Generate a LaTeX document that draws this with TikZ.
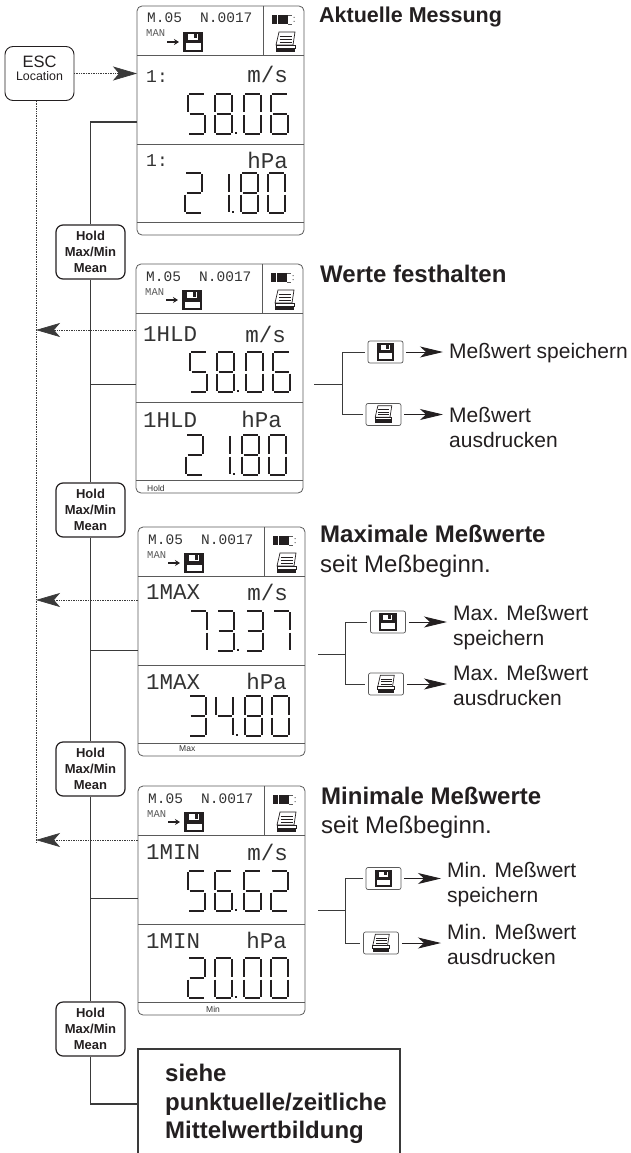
\documentclass[tikz,border=0pt]{standalone}
\usepackage{fontspec}
\setmainfont{Liberation Sans}
\newfontfamily\lcdfont{Liberation Mono}
\usepackage{tikz}
\usetikzlibrary{arrows.meta,calc}
\definecolor{textSchwarz}{HTML}{231F20}
\definecolor{lcdGrau}{HTML}{333333}
\definecolor{rahmenGrau}{HTML}{5A5A5A}
\definecolor{busGrau}{HTML}{3A3A3A}

\tikzset{
  panelbox/.style={draw=rahmenGrau, line width=0.8pt, rounded corners=5pt,
    anchor=north west, inner sep=0pt, outer sep=0pt,
    minimum width=167pt, minimum height=229pt},
  panellinie/.style={draw=rahmenGrau, line width=0.8pt},
  lcdtext/.style={text=lcdGrau, inner sep=0pt, anchor=base west},
  lcdseg/.style={draw=textSchwarz, line width=1.5pt},
  lcdquer/.style={line width=2.4pt},
  sega/.style=lcdquer, segd/.style=lcdquer, segg/.style=lcdquer,
  segb/.style={}, segc/.style={}, sege/.style={}, segf/.style={},
  lcdwert/.style={text opacity=0, inner sep=0pt, anchor=north west,
    font=\lcdfont\fontsize{28}{30}\selectfont},
  klein/.style={font=\lcdfont\fontsize{14.5}{16}\selectfont},
  mittel/.style={font=\lcdfont\fontsize{22.5}{24}\selectfont},
  einheit/.style={lcdtext, anchor=base east, font=\lcdfont\fontsize{22.5}{24}\selectfont},
  fuss/.style={text=lcdGrau, inner sep=0pt, anchor=base west,
    font=\fontsize{8.5}{10}\selectfont},
  holdbox/.style={draw=textSchwarz, line width=1.2pt, rounded corners=7pt,
    minimum width=69pt, minimum height=54pt, inner sep=0pt, align=center,
    text=textSchwarz, font=\fontsize{13}{16}\selectfont\bfseries},
  escbox/.style={draw=textSchwarz, line width=0.9pt, rounded corners=8pt,
    minimum width=69pt, minimum height=54pt, inner sep=0pt},
  esctext/.style={text=textSchwarz, inner sep=0pt, anchor=base},
  taste/.style={draw=rahmenGrau, line width=0.7pt, rounded corners=2pt,
    minimum width=35pt, minimum height=22pt, inner sep=0pt},
  titel/.style={text=textSchwarz, inner sep=0pt, anchor=base west,
    font=\fontsize{24}{26}\selectfont\bfseries},
  untertitel/.style={text=textSchwarz, inner sep=0pt, anchor=base west,
    font=\fontsize{24}{26}\selectfont},
  aktion/.style={text=textSchwarz, inner sep=0pt, anchor=base west,
    align=left, font=\fontsize{21}{25}\selectfont},
  buslinie/.style={draw=busGrau, line width=1.2pt},
  astlinie/.style={draw=busGrau, line width=1pt},
  punktlinie/.style={draw=busGrau, line width=0.7pt, densely dotted},
  punktpfeil/.style={punktlinie, -{Stealth[length=24pt,width=14pt,inset=6pt]}},
  aktionpfeil/.style={draw=textSchwarz, line width=0.9pt, shorten <=3pt, shorten >=6pt,
    -{Stealth[length=23pt,width=11pt,inset=6pt]}},
}

\begin{document}
\begin{tikzpicture}[x=1pt, y=-1pt]

  \useasboundingbox (0,0) rectangle (630,1153);

  % Segmente je Ziffer
  \def\lcdsegmente#1{\ifcase#1 a,b,c,d,e,f\or b,c\or a,b,g,e,d\or
    a,b,g,c,d\or f,g,b,c\or a,f,g,c,d\or a,f,g,e,d,c\or a,b,c\or
    a,b,c,d,e,f,g\or a,b,c,d,f,g\fi}
  \def\lcdziffer#1#2#3{%
    \begin{scope}[shift={(#1,#2)}]
      \coordinate (a1) at (1,0);     \coordinate (a2) at (16,0);
      \coordinate (b1) at (17,1);    \coordinate (b2) at (17,18.5);
      \coordinate (c1) at (17,21.5); \coordinate (c2) at (17,39);
      \coordinate (d1) at (1,40);    \coordinate (d2) at (16,40);
      \coordinate (e1) at (0,21.5);  \coordinate (e2) at (0,39);
      \coordinate (f1) at (0,1);     \coordinate (f2) at (0,18.5);
      \coordinate (g1) at (1.5,20);  \coordinate (g2) at (15.5,20);
      \edef\seglist{\lcdsegmente{#3}}
      \foreach \s in \seglist { \draw[lcdseg, seg\s] (\s1) -- (\s2); }
    \end{scope}}
  % Anzeigewert: x, y, Name, dann Wert bis zum Semikolon
  \def\lcdwert#1#2#3#4#5.#6#7;{%
    \node[lcdwert] (#3) at (#1,#2) {#4#5.#6#7};
    \lcdziffer{#1}{#2}{#4}
    \lcdziffer{#1+27}{#2}{#5}
    \fill[textSchwarz] ($(#1+47,#2+38)$) rectangle ($(#1+49,#2+40)$);
    \lcdziffer{#1+56}{#2}{#6}
    \lcdziffer{#1+83}{#2}{#7}}

  % Diskette, Mitte auf #1
  \def\diskette#1#2{%
    \begin{scope}[shift={(#1)},scale=#2]
      \fill[textSchwarz] (-10,-10) rectangle (10,10);
      \fill[white] (-7.5,1.5) rectangle (7.5,8);
      \fill[white] (-5.5,-8) rectangle (5,-2);
      \fill[textSchwarz] (0.5,-8) rectangle (3.5,-3.5);
    \end{scope}}
  % Drucker, Mitte auf #1
  \def\drucker#1#2{%
    \begin{scope}[shift={(#1)},scale=#2]
      \draw[textSchwarz, line width=0.7pt, fill=white]
        (-6.5,-10) -- (9.5,-10) -- (7.5,3) -- (-9.5,3) -- cycle;
      \foreach \yy in {-6,-3,0} { \draw[textSchwarz, line width=0.5pt] (-6,\yy) -- (6.5,\yy); }
      \draw[textSchwarz, line width=0.7pt] (-9.5,3) rectangle (9.5,6);
      \fill[textSchwarz] (-9.5,6) rectangle (9.5,10);
    \end{scope}}
  % Anzeige mit Kopfzeile
  \def\lcdrahmen#1#2#3{%
    \node[panelbox] (#1) at (#2,#3) {};
    \begin{scope}[shift={(#2,#3)}]
      \draw[panellinie] (0,49) -- (167,49);
      \draw[panellinie] (126,0) -- (126,49);
      \draw[panellinie] (0,138) -- (167,138);
      \draw[panellinie] (0,216) -- (167,216);
      \node[lcdtext,klein] (#1kennung) at (10,17) {M.05};
      \node[lcdtext,klein] (#1nummer) at (63,17) {N.0017};
      \node[lcdtext,font=\lcdfont\fontsize{10.5}{12}\selectfont,text=rahmenGrau] (#1modus) at (9,31) {MAN};
      \draw[textSchwarz, line width=1.6pt, -{Stealth[length=5pt,width=6pt]}] (30,36) -- (42,36);
      \diskette{56,36}{1}
      \fill[textSchwarz] (135,9) rectangle (140.2,18);
      \fill[textSchwarz] (140.8,9) rectangle (145.7,18);
      \fill[textSchwarz] (146.3,9) rectangle (151,18);
      \draw[rahmenGrau, line width=0.5pt] (151,9) -- (155,9) (151,18) -- (155,18);
      \fill[rahmenGrau] (156.5,11) rectangle (157.5,12) (156.5,15) rectangle (157.5,16);
      \drucker{148.5,36}{1}
    \end{scope}}

  % ── Taste ESC ──
  \node[escbox] (esc) at (39.5,73.5) {};
  \node[esctext,font=\fontsize{16.5}{17}\selectfont] (escName) at (39.5,68) {ESC};
  \node[esctext,font=\fontsize{12.4}{13}\selectfont] (escOrt) at (39.5,81) {Location};

  % ── Aktuelle Messung ──
  \lcdrahmen{panelA}{137}{6}
  \node[lcdtext,font=\lcdfont\fontsize{18}{20}\selectfont] (panelAob) at (146,83) {1:};
  \node[einheit] (einheitA) at (288,83) {m/s};
  \lcdwert{188}{94}{wertA}58.06;
  \node[lcdtext,font=\lcdfont\fontsize{18}{20}\selectfont] (panelAun) at (146,166) {1:};
  \node[einheit] (druckA) at (288,168) {hPa};
  \lcdwert{185}{173}{wertAA}21.80;
  \node[titel,font=\fontsize{21.5}{24}\selectfont\bfseries] (titelA) at (319,23) {Aktuelle Messung};

  % ── Werte festhalten ──
  \lcdrahmen{panelB}{136}{264}
  \node[lcdtext,mittel] (panelBob) at (143,341) {1HLD};
  \node[einheit] (einheitB) at (286,342) {m/s};
  \lcdwert{190}{352}{wertB}58.06;
  \node[lcdtext,mittel] (panelBun) at (143,427) {1HLD};
  \node[einheit] (druckB) at (282,427) {hPa};
  \lcdwert{186}{435}{wertBB}21.80;
  \node[fuss] (fussB) at (147,491) {Hold};
  \node[titel] (titelB) at (320,282) {Werte festhalten};

  % ── Maximale Meßwerte ──
  \lcdrahmen{panelC}{138}{527}
  \node[lcdtext,mittel] (panelCob) at (146,599) {1MAX};
  \node[einheit] (einheitC) at (288,600) {m/s};
  \lcdwert{190}{611}{wertC}73.37;
  \node[lcdtext,mittel] (panelCun) at (146,689) {1MAX};
  \node[einheit] (druckC) at (287,689) {hPa};
  \lcdwert{189}{696}{wertCC}34.80;
  \node[fuss] (fussC) at (179,751) {Max};
  \node[titel] (titelC) at (320,542) {Maximale Meßwerte};
  \node[untertitel] (seitC) at (320,572) {seit Meßbeginn.};

  % ── Minimale Meßwerte ──
  \lcdrahmen{panelD}{138}{786}
  \node[lcdtext,mittel] (panelDob) at (146,859) {1MIN};
  \node[einheit] (einheitD) at (288,860) {m/s};
  \lcdwert{188}{871}{wertD}56.62;
  \node[lcdtext,mittel] (panelDun) at (146,948) {1MIN};
  \node[einheit] (druckD) at (287,948) {hPa};
  \lcdwert{188}{958}{wertDD}20.00;
  \node[fuss] (fussD) at (206,1012) {Min};
  \node[titel] (titelD) at (321,804) {Minimale Meßwerte};
  \node[untertitel] (seitD) at (321,833) {seit Meßbeginn.};

  % ── Hold-Tasten ──
  \foreach \n/\yy in {A/252, B/510, C/769, D/1029}{
    \node[holdbox] (hold\n) at (90.5,\yy) {Hold\\Max/Min\\Mean};
  }

  % ── ESC-Linien ──
  \coordinate (rueckEnde) at (36,843);
  \coordinate (rueckB) at (36,330);
  \coordinate (rueckC) at (36,600);
  \coordinate (rueckD) at (36,840);
  \draw[punktlinie] (esc.south -| rueckEnde) -- (rueckEnde);
  \draw[punktpfeil] (esc) ++(34.5,0) -- (esc -| panelA.west);
  \foreach \n in {B,C,D}{
    \draw[punktpfeil] (rueck\n -| panel\n.west) -- (rueck\n);
  }

  % ── Hauptlinie ──
  \coordinate (abzweigA) at (90.5,122);
  \coordinate (abzweigB) at (90.5,384);
  \coordinate (abzweigC) at (90.5,650);
  \coordinate (abzweigD) at (90.5,898);
  \coordinate (abzweigE) at (90.5,1104);
  \draw[buslinie] (abzweigA -| panelA.west) -- (abzweigA) -- (holdA.north);
  \foreach \a/\b/\n in {A/B/B, B/C/C, C/D/D}{
    \draw[buslinie] (hold\a.south) -- (hold\b.north);
    \draw[astlinie] (abzweig\n) -- (abzweig\n -| panel\n.west);
  }

  % ── Abschluss ──
  \node[inner sep=0pt, minimum width=261.5pt, minimum height=104pt, anchor=north west]
    (abschluss) at (138,1049) {};
  \draw[buslinie] (abschluss.south west) -- (abschluss.north west)
    -- (abschluss.north east) -- (abschluss.south east);
  \draw[buslinie] (holdD.south) -- (abzweigE) -- (abzweigE -| abschluss.west);
  \node[titel] (abschlusstextA) at (165,1081) {siehe};
  \node[titel] (abschlusstextB) at (165,1110) {punktuelle/zeitliche};
  \node[titel] (abschlusstextC) at (165,1138) {Mittelwertbildung};

  % ── Speichern und Drucken ──
  \foreach \n/\xs/\ys/\xd/\yd/\xk/\yk/\xa in {
      B/385.5/352/383.5/414.5/342/384/314,
      C/388/622/386/684/345/654/318,
      D/383.5/878.5/381/943/345/910/318}{
    \node[taste] (speichern\n) at (\xs,\ys) {};
    \node[taste] (drucken\n) at (\xd,\yd) {};
    \diskette{speichern\n.center}{0.87}
    \drucker{drucken\n.center}{0.87}
    \coordinate (knoten\n) at (\xk,\yk);
    \coordinate (ansatz\n) at (\xa,\yk);
    \draw[astlinie] (ansatz\n) -- (knoten\n);
    \draw[astlinie, shorten <=3pt, shorten >=3pt] (speichern\n.west)
      -- (speichern\n.west -| knoten\n) -- (drucken\n.west -| knoten\n) -- (drucken\n.west);
  }

  \node[aktion] (textSpeichernB) at (449,358) {Meßwert speichern};
  \node[aktion] (textDruckenB) at (449,447) {Meßwert\\ausdrucken};
  \node[aktion] (textSpeichernC) at (453,645) {Max. Meßwert\\speichern};
  \node[aktion] (textDruckenC) at (453,705) {Max. Meßwert\\ausdrucken};
  \node[aktion] (textSpeichernD) at (447,902) {Min. Meßwert\\speichern};
  \node[aktion] (textDruckenD) at (447,964) {Min. Meßwert\\ausdrucken};

  \foreach \n in {B,C,D}{
    \draw[aktionpfeil] (speichern\n.east) -- (speichern\n.east -| textSpeichern\n.west);
    \draw[aktionpfeil] (drucken\n.east) -- (drucken\n.east -| textDrucken\n.west);
  }

\end{tikzpicture}
\end{document}
